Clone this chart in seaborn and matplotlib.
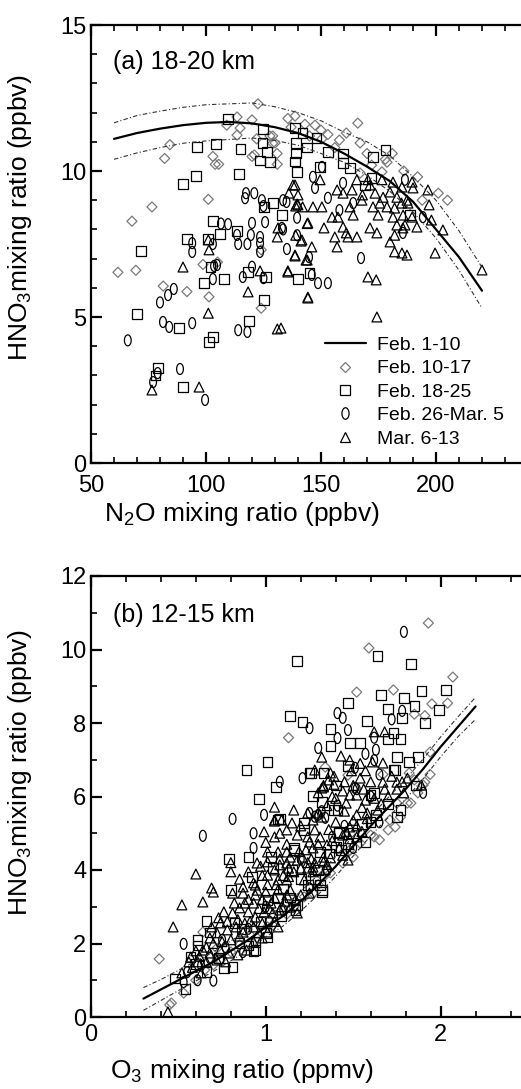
import numpy as np
import pandas as pd
import matplotlib
matplotlib.use("Agg")
import matplotlib.pyplot as plt
from matplotlib.lines import Line2D
from matplotlib.ticker import MultipleLocator
import seaborn as sns

# --- panel (a) 18-20 km : N2O (ppbv) vs HNO3 (ppbv) ---
a_fit_x = [60, 70, 80, 90, 100, 110, 120, 130, 140, 150, 160, 170, 180, 190, 200, 210, 220]
a_fit_y = [11.1, 11.3, 11.45, 11.57, 11.65, 11.68, 11.63, 11.5, 11.3, 11.0, 10.6, 10.15, 9.65, 8.95, 8.0, 7.05, 5.9]
a_fit_hi = [11.65, 11.9, 12.05, 12.18, 12.27, 12.3, 12.33, 12.2, 12.0, 11.72, 11.33, 11.0, 10.52, 9.8, 9.0, 7.95, 6.7]
a_fit_lo = [10.4, 10.62, 10.8, 10.95, 11.03, 11.08, 11.13, 11.05, 10.88, 10.6, 10.3, 9.85, 9.3, 8.6, 7.7, 6.6, 5.3]

a_feb10_17 = [(122.6, 12.3), (113.5, 11.85), (120, 11.75), (109, 11.57), (114.8, 11.47), (135.6, 11.8),
              (138.7, 11.88), (137, 11.5), (113.5, 11.23), (122, 11.1), (127.8, 11.2), (129, 10.95),
              (130.9, 10.6), (120, 10.5), (103, 10.5), (104, 10.23), (105.5, 10.23), (131, 10.23),
              (84.3, 10.9), (82, 10.43), (101, 9.03), (76.5, 8.77), (67.8, 8.28), (124, 7.3),
              (61.7, 6.53), (69.5, 6.6), (81.4, 6.06), (91.7, 5.87), (98.7, 6.8), (105, 6.88),
              (101.3, 5.69), (124, 5.3), (147.4, 11.57), (150, 11.4), (153, 11.25), (150.4, 11.1),
              (158, 11.06), (161, 11.3), (166, 11.64), (167, 10.96), (170, 10.6), (178.7, 10.3),
              (181, 10.6), (178, 10.4), (176.5, 9.97), (130, 10.96), (129, 11.2), (121, 10.55),
              (192, 9.8), (201, 9.24), (205, 9.0), (194, 9.0), (167, 9.93), (143, 11.6),
              (145, 11.2), (156, 10.8), (186, 10.0), (172, 10.2)]
a_feb18_25 = [(109.5, 11.78), (124.8, 11.44), (96, 10.83), (104.3, 10.92), (115, 10.75), (124.5, 10.95),
              (126.5, 10.66), (123.5, 10.36), (127.8, 10.3), (138.7, 11.47), (139, 10.96), (139, 10.6),
              (138.7, 10.33), (139.5, 9.97), (114.4, 9.9), (95.6, 9.83), (90, 9.55), (125.2, 8.77),
              (129, 8.9), (133, 8.49), (103, 8.29), (113.5, 7.95), (106, 7.84), (91.7, 7.67),
              (101, 7.67), (71.7, 7.26), (102, 6.71), (99, 6.16), (107.8, 6.3), (118.3, 6.54),
              (126, 6.37), (125.2, 5.58), (70, 5.1), (88.3, 4.62), (118.7, 4.86), (103, 4.32),
              (101.3, 4.14), (79, 3.25), (78, 3.0), (90, 2.6), (140, 6.3), (145, 6.5),
              (142, 11.3), (148, 11.13), (144, 10.8), (153, 10.65), (159.6, 10.6), (178, 10.72),
              (172.6, 10.48), (159.6, 10.27), (162.6, 10.1), (149.6, 10.14), (172, 9.76),
              (188.7, 8.5), (169, 9.5)]
a_feb26_mar5 = [(117.4, 9.24), (117, 9.07), (125, 8.8), (120, 8.22), (125.7, 8.25), (133, 8.05),
                (106.5, 8.2), (94, 7.53), (113.5, 7.81), (119.5, 7.81), (123.5, 7.53), (135, 8.94),
                (103, 7.5), (94, 7.23), (114, 7.5), (118, 7.5), (123.5, 7.23), (103.5, 6.75),
                (103, 6.3), (120, 6.72), (116, 6.37), (86, 5.96), (83.5, 5.75), (80, 5.5),
                (81.3, 4.83), (84, 4.66), (94, 4.79), (114, 4.55), (118, 4.49), (66, 4.2),
                (79, 3.08), (88.7, 3.22), (77, 2.77), (99.6, 2.16), (109.6, 8.18), (133.5, 8.0),
                (135.2, 7.33), (139.6, 7.8), (139.6, 8.4), (123.5, 7.74), (125, 6.33), (104.8, 6.78),
                (121, 9.24), (146.5, 9.8), (147.4, 9.42), (150.4, 10.14), (153, 9.08), (158, 8.66),
                (159.6, 9.59), (164, 8.9), (144.8, 7.05), (153, 6.16), (148.7, 6.16), (167.4, 7.02),
                (185.6, 7.88), (194.3, 8.42), (186.5, 9.7), (146, 6.44), (133.5, 9.0), (124.3, 9.0)]
a_mar6_13 = [(138.7, 9.52), (136, 9.24), (139, 8.8), (131.3, 8.05), (101, 7.64), (139, 7.8),
             (101.3, 7.3), (90, 6.71), (123.5, 6.58), (135.6, 6.58), (138.7, 7.09), (118.3, 5.86),
             (101, 5.13), (131, 4.59), (132.6, 4.62), (76.5, 2.5), (97, 2.6), (143.5, 6.95),
             (131, 7.74), (141.3, 7.6), (139.6, 8.87), (144, 8.2), (144.3, 5.68),
             (149.6, 9.7), (137.8, 9.52), (140, 9.18), (140, 8.84), (142, 8.77), (146.5, 8.77),
             (150.4, 8.77), (144.3, 8.22), (151.3, 8.05), (157, 9.35), (159.6, 9.24), (163.5, 9.35),
             (165.6, 9.7), (168, 9.18), (167.8, 9.0), (162.6, 8.77), (154.8, 8.42), (157.4, 8.42),
             (164, 8.49), (159.6, 8.08), (161, 7.88), (161.7, 7.74), (165.6, 7.74), (156, 7.74),
             (157, 7.4), (141.7, 7.64), (146, 7.4), (138.7, 7.12), (144, 6.95), (135.6, 6.54),
             (170.4, 6.37), (174, 6.27), (144.3, 5.65), (174.3, 5.0),
             (170.4, 9.7), (171.3, 9.52), (176.5, 9.7), (181.3, 9.62), (185.2, 9.45), (189.6, 9.62),
             (190, 9.42), (196.5, 9.35), (173.5, 9.24), (177, 9.1), (180, 9.28), (183, 9.1),
             (187.4, 9.0), (172.6, 8.77), (175.6, 8.9), (178.7, 8.77), (182, 8.73), (185, 8.9),
             (187.8, 8.9), (197, 8.84), (174.8, 8.49), (181.3, 8.42), (185.7, 8.49), (189.6, 8.42),
             (183, 8.15), (186.5, 8.15), (191.7, 8.08), (198, 8.32), (182, 7.8), (185.6, 8.05),
             (171.3, 8.05), (174.3, 7.88), (203, 7.98), (180, 7.57), (182, 7.23), (185.2, 7.19),
             (187.4, 7.12), (199.6, 7.19), (220, 6.61)]

# --- panel (b) 12-15 km : O3 (ppmv) vs HNO3 (ppbv) ---
b_fit_x = [0.3, 0.4, 0.5, 0.6, 0.7, 0.8, 0.9, 1.0, 1.1, 1.2, 1.3, 1.4, 1.5, 1.6, 1.7, 1.8, 1.9, 2.0, 2.1, 2.2]
b_fit_y = [0.5, 0.75, 1.0, 1.25, 1.5, 1.8, 2.1, 2.45, 2.75, 3.15, 3.6, 4.1, 4.65, 5.2, 5.7, 6.2, 6.75, 7.35, 7.9, 8.45]
b_fit_hi = [0.8, 1.02, 1.27, 1.52, 1.77, 2.07, 2.37, 2.72, 3.02, 3.42, 3.87, 4.37, 4.92, 5.47, 5.97, 6.47, 7.02, 7.62, 8.17, 8.7]
b_fit_lo = [0.18, 0.45, 0.72, 0.98, 1.24, 1.53, 1.83, 2.18, 2.48, 2.88, 3.33, 3.83, 4.38, 4.93, 5.43, 5.93, 6.48, 7.08, 7.63, 8.1]

b_feb10_17 = [(1.93, 10.72), (1.59, 10.04), (2.07, 9.25), (1.73, 8.9), (1.52, 8.84), (1.95, 8.52),
              (2.04, 8.54), (1.85, 8.24), (1.91, 8.2), (1.13, 7.6), (1.94, 7.21), (1.47, 6.58),
              (1.67, 6.6), (1.91, 6.39), (1.94, 6.6), (1.34, 6.8), (1.82, 6.64), (1.85, 6.45),
              (1.75, 5.82), (1.81, 5.82), (1.71, 5.36), (1.74, 5.17), (1.70, 5.09), (1.65, 4.82),
              (1.60, 4.95), (1.54, 4.73), (1.48, 4.54), (1.44, 4.19), (1.37, 3.92), (1.27, 3.37),
              (1.16, 2.99), (1.04, 2.5), (1.01, 2.45), (0.91, 2.23), (0.85, 1.96), (0.80, 1.77),
              (0.74, 1.55), (0.65, 1.28), (0.60, 1.0), (0.53, 0.65), (0.46, 0.38), (0.45, 0.33),
              (0.39, 1.58), (0.64, 2.31), (0.72, 1.87), (1.22, 3.27), (1.33, 3.81), (1.87, 6.1),
              (1.90, 6.31), (1.83, 5.82), (1.77, 5.44), (1.12, 2.8), (0.95, 2.15), (0.70, 1.42),
              (1.30, 3.6), (1.50, 4.35), (1.62, 4.9)]
b_feb18_25 = [(1.64, 9.82), (1.83, 9.6), (1.18, 9.69), (1.89, 8.87), (2.03, 8.9), (1.66, 8.76),
              (1.79, 8.68), (1.47, 8.54), (1.85, 8.46), (1.99, 8.35), (1.70, 8.38), (1.14, 8.19),
              (1.78, 8.14), (1.91, 8.0), (1.21, 8.03), (1.58, 8.05), (1.37, 7.84), (1.73, 7.73),
              (1.70, 7.56), (1.77, 7.56), (1.37, 7.37), (1.48, 7.45), (1.54, 7.45), (1.75, 7.07),
              (1.82, 6.94), (1.87, 7.07), (1.01, 6.94), (1.47, 6.83), (1.74, 6.72), (1.33, 6.64),
              (1.26, 6.64), (1.06, 6.26), (0.89, 6.72), (0.96, 5.93), (1.07, 5.37), (0.79, 4.3),
              (0.90, 4.35), (0.66, 2.61), (0.54, 0.76), (1.08, 5.39), (1.22, 5.28), (1.16, 4.6),
              (1.31, 4.49), (1.04, 4.05), (1.15, 4.0), (1.20, 3.75), (1.28, 3.75), (1.32, 3.46),
              (0.92, 3.81), (0.80, 3.46), (1.01, 3.18), (1.07, 3.24), (1.18, 3.05), (1.01, 2.18),
              (0.94, 2.04), (0.85, 2.01), (0.61, 2.1), (0.61, 1.95), (0.93, 1.8), (0.76, 1.33),
              (0.81, 1.36), (0.66, 1.22), (0.57, 1.63), (1.40, 6.3), (1.27, 6.01), (1.62, 6.1),
              (1.39, 5.63), (1.22, 5.09), (1.42, 5.0), (1.57, 4.76), (1.43, 4.54), (1.16, 4.54),
              (1.75, 5.44), (1.77, 5.63), (1.73, 6.72), (1.60, 6.04), (1.25, 6.64), (1.32, 5.85),
              (1.41, 5.63), (1.40, 4.63), (1.42, 5.04), (1.03, 4.35), (1.30, 4.0), (1.31, 3.59),
              (1.32, 3.4), (1.17, 2.91), (1.00, 2.29), (0.94, 1.82), (1.10, 3.5), (1.60, 5.3),
              (1.50, 5.0), (1.86, 6.3), (0.68, 2.3), (0.86, 2.4), (0.97, 2.6), (1.09, 2.75),
              (0.82, 2.55), (1.14, 3.25), (1.24, 3.6), (1.36, 4.45), (1.47, 4.7), (1.55, 5.25),
              (1.63, 5.5), (1.70, 5.8), (0.73, 1.6), (0.90, 1.95), (0.48, 1.05), (0.60, 1.45)]
b_feb26_mar5 = [(1.79, 10.48), (1.78, 8.33), (1.25, 7.86), (1.41, 8.27), (1.44, 8.14), (1.72, 8.1),
                (1.47, 7.81), (1.41, 7.59), (1.62, 7.6), (1.30, 7.32), (1.63, 7.27), (1.57, 7.16),
                (1.62, 6.99), (1.21, 6.5), (1.52, 6.2), (1.90, 6.1), (1.08, 6.4), (0.81, 5.39),
                (0.99, 5.5), (0.64, 4.93), (0.93, 5.0), (0.93, 4.6), (0.53, 1.99), (0.53, 0.95),
                (0.61, 1.0), (0.55, 1.22), (0.70, 0.99), (0.87, 1.77), (1.51, 6.78), (1.51, 6.23),
                (1.30, 5.5), (1.32, 5.6), (1.28, 5.45), (1.34, 5.42), (1.25, 5.55), (1.41, 5.75),
                (1.60, 6.0), (1.38, 4.9), (1.20, 4.3), (1.00, 3.0), (0.75, 2.1), (1.65, 6.6),
                (1.45, 5.2), (0.63, 1.4), (0.77, 1.9), (0.90, 2.4), (1.10, 2.9), (1.25, 3.5),
                (1.35, 4.0), (1.50, 4.6), (1.65, 5.3), (1.02, 2.6), (0.68, 1.6)]
b_mar6_13 = [(1.32, 7.07), (1.43, 7.10), (1.48, 6.99), (1.67, 6.91), (1.54, 6.90), (1.28, 6.72),
             (1.37, 6.64), (1.54, 6.5), (1.57, 6.7), (1.60, 6.4), (1.67, 6.39), (1.75, 6.39),
             (1.39, 6.33), (1.33, 6.30), (1.81, 6.5), (1.89, 6.31), (1.62, 7.76), (1.68, 7.76),
             (1.61, 6.94), (1.05, 5.71), (1.16, 5.63), (1.05, 5.33), (0.99, 5.04), (1.00, 4.75),
             (0.80, 4.2), (0.80, 3.95), (0.60, 3.89), (0.69, 3.51), (0.70, 3.4), (0.52, 3.05),
             (0.64, 3.13), (0.47, 2.45), (0.44, 0.14), (1.05, 5.36), (1.15, 5.28), (1.24, 5.55),
             (1.30, 5.55), (1.32, 5.44), (1.27, 5.36), (1.32, 6.23), (1.30, 6.10), (1.08, 5.0),
             (1.12, 5.09), (1.18, 4.95), (1.24, 4.9), (1.25, 4.76), (1.28, 5.09), (1.31, 4.9),
             (1.35, 4.68), (1.01, 4.49), (1.07, 4.49), (1.12, 4.49), (0.95, 4.19), (1.01, 4.22),
             (1.08, 4.14), (1.13, 4.05), (1.18, 4.27), (1.20, 4.05), (1.24, 4.05), (1.28, 4.19),
             (1.33, 4.22), (1.34, 4.0), (1.01, 3.86), (0.94, 3.59), (0.87, 3.54), (1.07, 3.73),
             (1.12, 3.73), (0.81, 3.37), (0.87, 3.37), (0.94, 3.32), (1.00, 3.40), (1.07, 3.46),
             (1.12, 3.32), (1.20, 3.32), (1.25, 3.37), (0.76, 2.86), (0.81, 2.83), (0.85, 2.97),
             (0.90, 2.86), (0.94, 2.72), (0.99, 2.86), (1.04, 2.83), (1.08, 2.91), (1.14, 2.99),
             (1.18, 2.83), (0.69, 2.45), (0.74, 2.56), (0.72, 2.29), (0.78, 2.37), (0.83, 2.45),
             (0.87, 2.31), (0.93, 2.45), (0.96, 2.29), (1.01, 2.31), (1.07, 2.45), (0.64, 1.82),
             (0.68, 1.74), (0.74, 1.82), (0.79, 1.74), (0.84, 1.69), (0.89, 1.82), (0.57, 1.63),
             (0.56, 1.50), (0.61, 1.50), (0.66, 1.50), (0.72, 1.55), (0.77, 1.50), (1.79, 6.1),
             (1.48, 6.04), (1.52, 6.04), (1.46, 5.82), (1.33, 6.26), (1.38, 6.0), (1.09, 5.36),
             (1.20, 5.2), (1.45, 5.6), (1.52, 5.5), (1.58, 5.55), (1.64, 5.63), (1.58, 5.4),
             (1.48, 5.17), (1.52, 5.2), (1.55, 5.05), (1.44, 4.95), (1.48, 4.85), (1.52, 4.9),
             (1.44, 4.4), (1.47, 4.27), (1.37, 4.33), (1.35, 4.15), (1.33, 4.35), (1.27, 4.08),
             (1.24, 4.2), (1.21, 4.35), (1.12, 4.19), (1.08, 4.3), (0.97, 4.1), (1.27, 3.95),
             (1.22, 3.73), (1.13, 3.82), (1.06, 3.6), (1.01, 3.6), (0.93, 3.65), (1.14, 3.45),
             (1.05, 3.25), (0.98, 3.2), (0.93, 3.1), (0.88, 3.1), (1.11, 3.15), (1.17, 3.2),
             (1.02, 2.95), (0.96, 2.95), (1.05, 2.6), (0.98, 2.55), (0.91, 2.6), (0.93, 2.05),
             (0.98, 2.15), (1.39, 6.55), (1.45, 6.4), (1.40, 5.95), (1.35, 5.75), (1.50, 6.3),
             (1.70, 6.0), (1.75, 6.2), (1.66, 5.8), (1.12, 4.7), (1.05, 4.9), (1.40, 5.3),
             (1.36, 5.1), (1.30, 4.7), (1.57, 5.9), (0.62, 1.65), (0.66, 1.9), (0.70, 2.0),
             (0.75, 2.05), (0.80, 2.1), (0.85, 2.2), (0.78, 2.6), (0.84, 2.65), (0.88, 2.55),
             (0.73, 2.7), (0.82, 3.1), (0.90, 3.2), (0.95, 3.45), (1.03, 3.1), (1.09, 3.0),
             (1.10, 3.85), (1.16, 3.95), (1.19, 4.5), (1.23, 4.55), (1.27, 4.6), (1.14, 4.35),
             (1.05, 4.0), (0.98, 3.85), (0.90, 3.95), (0.85, 3.75), (1.26, 4.3), (1.38, 4.8),
             (1.42, 4.6), (1.46, 5.05), (1.50, 5.35), (1.55, 5.7), (1.62, 5.95), (1.68, 6.2),
             (1.72, 6.55), (1.78, 6.4), (1.56, 6.2), (1.44, 6.15), (1.36, 6.45), (1.49, 6.7),
             (0.68, 2.15), (0.60, 1.8), (0.58, 1.35), (0.52, 1.2), (0.63, 1.2)]

labels = ["Feb. 1-10", "Feb. 10-17", "Feb. 18-25", "Feb. 26-Mar. 5", "Mar. 6-13"]

sns.set_style("ticks")
plt.rcParams["font.family"] = ["Liberation Sans", "DejaVu Sans"]
plt.rcParams["mathtext.fontset"] = "custom"
plt.rcParams["mathtext.rm"] = "Liberation Sans"
plt.rcParams["mathtext.it"] = "Liberation Sans:italic"
for key in ["text.color", "axes.labelcolor", "xtick.color", "ytick.color", "axes.edgecolor"]:
    plt.rcParams[key] = "black"

t = np.linspace(0, 2 * np.pi, 40)
oval = list(zip(0.62 * np.cos(t), np.sin(t)))

# marker, size, edge colour
styles = {
    "Feb. 10-17": ("D", 26, "#7a7a7a"),
    "Feb. 18-25": ("s", 48, "black"),
    "Feb. 26-Mar. 5": (oval, 62, "black"),
    "Mar. 6-13": ("^", 50, "black"),
}


def draw_points(ax, pts, name):
    df = pd.DataFrame(pts, columns=["x", "y"])
    m, s, c = styles[name]
    sns.scatterplot(data=df, x="x", y="y", ax=ax, marker=m, s=s,
                    facecolor="none", edgecolor=c, linewidth=0.9, zorder=3)


def draw_fit(ax, x, y, hi, lo):
    sns.lineplot(x=x, y=y, ax=ax, color="black", lw=1.6, sort=False, zorder=4)
    for yy in (hi, lo):
        sns.lineplot(x=x, y=yy, ax=ax, color="#333333", lw=0.8, sort=False,
                     dashes=False, linestyle=(0, (4, 2, 1, 2)), zorder=4)


def style_axes(ax, xlab_y, ylab_y, xpad):
    for side in ["left", "bottom", "top"]:
        ax.spines[side].set_linewidth(1.6)
    ax.spines["right"].set_visible(False)
    ax.tick_params(which="both", direction="in", top=True, right=False, labelsize=17)
    ax.tick_params(which="major", length=8, width=1.6)
    ax.tick_params(axis="x", which="major", pad=xpad)
    ax.tick_params(which="minor", length=4, width=1.2)
    ax.set_xlabel(ax.get_xlabel(), fontsize=19)
    ax.set_ylabel(ax.get_ylabel(), fontsize=19)
    ax.xaxis.set_label_coords(0.345, xlab_y)
    ax.yaxis.set_label_coords(-0.13, ylab_y)


fig = plt.figure(figsize=(5.21, 10.89), dpi=100)
ax1 = fig.add_axes([91 / 521, 1 - 463 / 1089, 437 / 521, 438 / 1089])
ax2 = fig.add_axes([91 / 521, 1 - 1017 / 1089, 437 / 521, 441 / 1089])

# panel a
draw_fit(ax1, a_fit_x, a_fit_y, a_fit_hi, a_fit_lo)
draw_points(ax1, a_feb10_17, "Feb. 10-17")
draw_points(ax1, a_feb18_25, "Feb. 18-25")
draw_points(ax1, a_feb26_mar5, "Feb. 26-Mar. 5")
draw_points(ax1, a_mar6_13, "Mar. 6-13")
ax1.set_xlim(50, 240)
ax1.set_ylim(0, 15)
ax1.xaxis.set_major_locator(MultipleLocator(50))
ax1.xaxis.set_minor_locator(MultipleLocator(10))
ax1.yaxis.set_major_locator(MultipleLocator(5))
ax1.yaxis.set_minor_locator(MultipleLocator(1))
ax1.set_xlabel("N$_2$O mixing ratio (ppbv)")
ax1.set_ylabel("HNO$_3$mixing ratio (ppbv)")
style_axes(ax1, -0.085, 0.56, 9)
ax1.text(0.05, 0.915, "(a) 18-20 km", transform=ax1.transAxes, fontsize=18, va="center")

handles = [Line2D([], [], color="black", lw=1.6)]
for name in labels[1:]:
    m, s, c = styles[name]
    handles.append(Line2D([], [], ls="none", marker=m, markersize=np.sqrt(s) * 1.05,
                          mfc="none", mec=c, mew=0.9))
ax1.legend(handles, labels, loc="lower left", bbox_to_anchor=(0.535, 0.035), frameon=False,
           fontsize=14, borderpad=0, borderaxespad=0, handlelength=2.1, handletextpad=0.6,
           labelspacing=0.3)

# panel b
draw_fit(ax2, b_fit_x, b_fit_y, b_fit_hi, b_fit_lo)
draw_points(ax2, b_feb10_17, "Feb. 10-17")
draw_points(ax2, b_feb18_25, "Feb. 18-25")
draw_points(ax2, b_feb26_mar5, "Feb. 26-Mar. 5")
draw_points(ax2, b_mar6_13, "Mar. 6-13")
ax2.set_xlim(0, 2.5)
ax2.set_ylim(0, 12)
ax2.xaxis.set_major_locator(MultipleLocator(1))
ax2.xaxis.set_minor_locator(MultipleLocator(0.2))
ax2.yaxis.set_major_locator(MultipleLocator(2))
ax2.yaxis.set_minor_locator(MultipleLocator(1))
ax2.set_xlabel("O$_3$ mixing ratio (ppmv)")
ax2.set_ylabel("HNO$_3$mixing ratio (ppbv)")
style_axes(ax2, -0.09, 0.555, 5)
ax2.text(0.05, 0.912, "(b) 12-15 km", transform=ax2.transAxes, fontsize=18, va="center")

fig.savefig("out.png", dpi=100)
